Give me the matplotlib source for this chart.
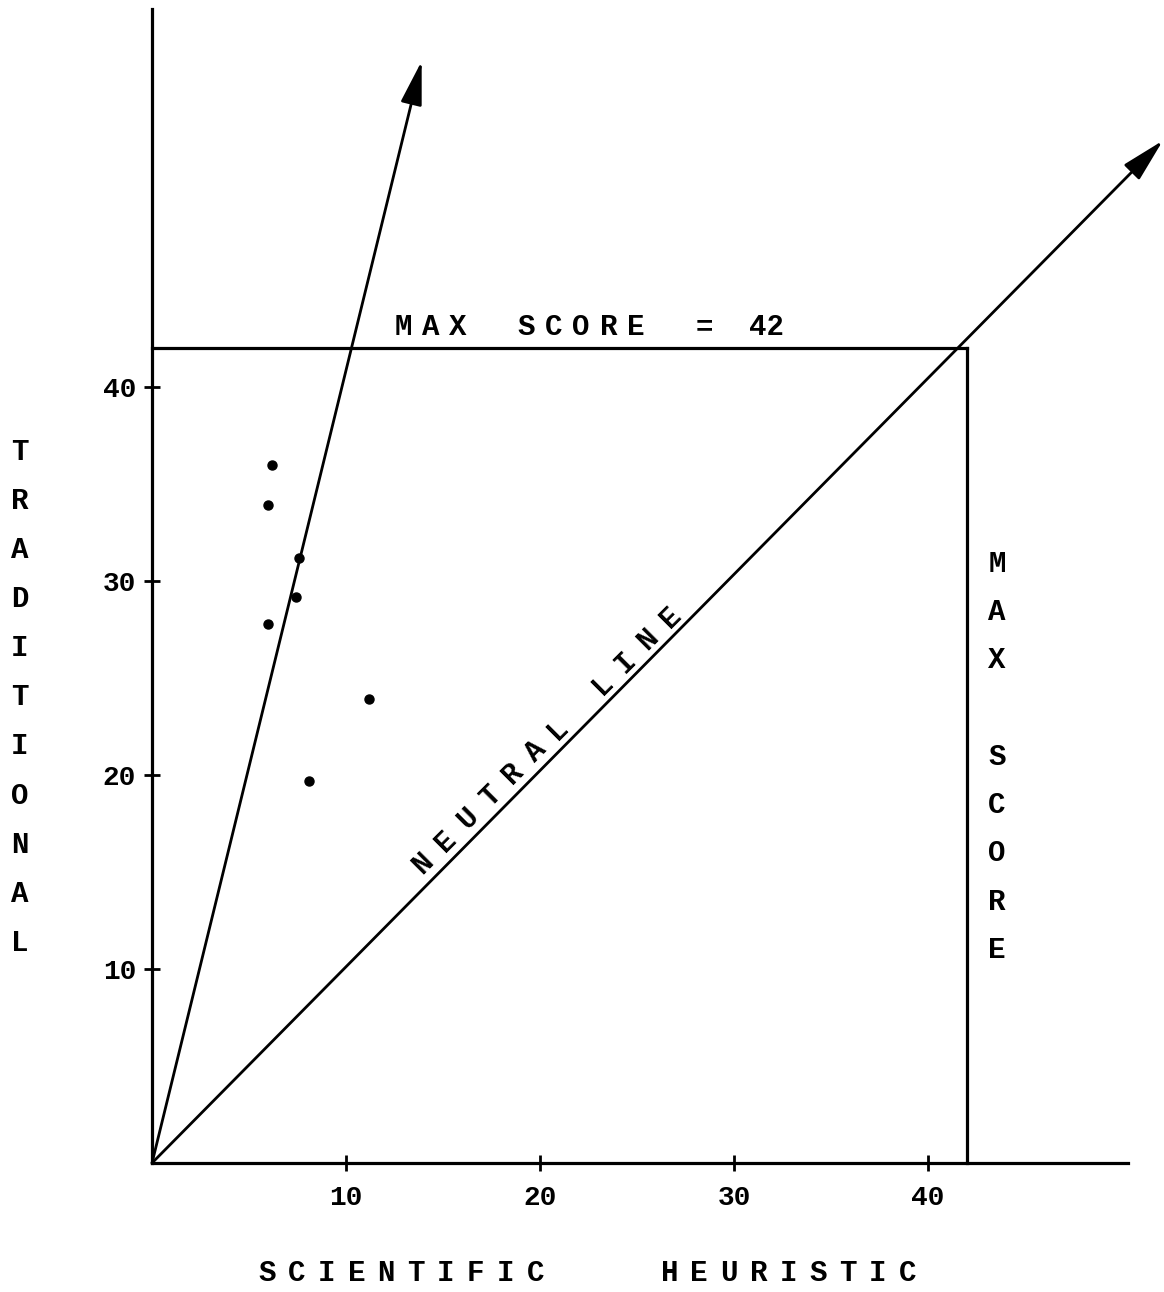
import matplotlib
matplotlib.use("Agg")
import matplotlib.pyplot as plt

# scores per subject: scientific heuristic (x) vs traditional (y)
sh_scores = [6.2, 6.0, 7.6, 7.4, 6.0, 11.2, 8.1]
trad_scores = [36.0, 33.9, 31.2, 29.2, 27.8, 23.9, 19.7]

max_score = 42
tick_vals = [10, 20, 30, 40]
tick_labels = ["10", "20", "30", "40"]

# end points of the two arrows drawn from the origin
trend_tip = (13.9, 56.8)
neutral_tip = (52.1, 52.7)

FONT = "Liberation Mono"
WEIGHT = "bold"


def spaced(ax, s, x0, y0, dx, dy, rot=0, size=21):
    # typewriter style: one glyph at a time on a fixed pitch
    for i, ch in enumerate(s):
        if ch == " ":
            continue
        ax.text(x0 + i * dx, y0 + i * dy, ch, rotation=rot, rotation_mode="anchor",
                ha="center", va="center", fontsize=size, family=FONT,
                weight=WEIGHT, color="black")


fig = plt.figure(figsize=(11.64, 12.92), dpi=100)
ax = fig.add_axes([0, 0, 1, 1])
ax.set_xlim(-7.835, 52.16)
ax.set_ylim(-6.65, 59.95)

# axes crossing at the origin
for side in ["top", "right"]:
    ax.spines[side].set_visible(False)
ax.spines["left"].set_position(("data", 0))
ax.spines["bottom"].set_position(("data", 0))
ax.spines["left"].set_bounds(0, 59.5)
ax.spines["bottom"].set_bounds(0, 50.3)
ax.spines["left"].set_linewidth(2.3)
ax.spines["bottom"].set_linewidth(2.3)

ax.set_xticks(tick_vals)
ax.set_xticklabels(tick_labels)
ax.set_yticks(tick_vals)
ax.set_yticklabels(tick_labels)
ax.tick_params(direction="inout", length=11, width=2, labelsize=20, pad=6)
ax.tick_params(axis="x", pad=10)
for lab in ax.get_xticklabels() + ax.get_yticklabels():
    lab.set_family(FONT)
    lab.set_weight(WEIGHT)

# max score box
ax.plot([0, max_score], [max_score, max_score], color="black", lw=2.3)
ax.plot([max_score, max_score], [0, max_score], color="black", lw=2.3)

# arrows
arrow = dict(arrowstyle="-|>,head_length=0.9,head_width=0.22", color="black",
             lw=2, mutation_scale=30, shrinkA=0, shrinkB=0)
ax.annotate("", xy=trend_tip, xytext=(0, 0), arrowprops=arrow)
ax.annotate("", xy=neutral_tip, xytext=(0, 0), arrowprops=arrow)

ax.plot(sh_scores, trad_scores, "o", color="black", ms=6.5, zorder=5)

# labels
spaced(ax, "M A X    S C O R E    =", 12.94, 43.1, 0.706, 0)
ax.text(12.94 + 26.5 * 0.706, 43.1, str(max_score), ha="center", va="center",
        fontsize=21, family=FONT, weight=WEIGHT)
spaced(ax, "TRADITIONAL", -6.81, 36.65, 0, -2.53)
spaced(ax, "MAX SCORE", 43.55, 30.9, 0, -2.49)
spaced(ax, "S C I E N T I F I C        H E U R I S T I C", 5.93, -5.67, 0.768, 0)
spaced(ax, "NEUTRAL LINE", 13.97, 15.46, 1.158, 1.153, rot=45)

fig.savefig("out.png", dpi=100, facecolor="white")
